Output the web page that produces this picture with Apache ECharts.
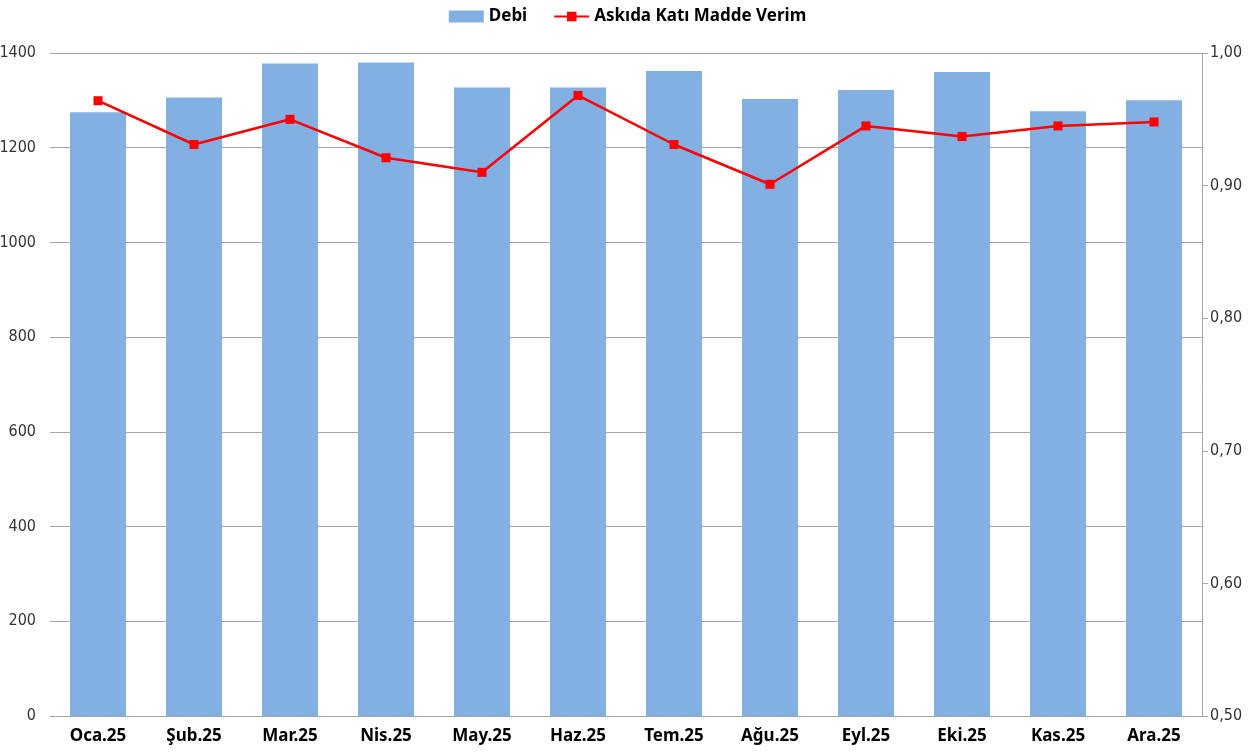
<!DOCTYPE html>
<html lang="tr">
<head>
    <meta charset="UTF-8">
    <title>Debi</title>
    <style>
        html, body { margin: 0; padding: 0; background: #fff; }
        #app { width: 1255px; height: 752px; }
    </style>
</head>
<body>
    <div id="app"></div>
</body>
<script src="https://cdn.jsdelivr.net/npm/echarts@6/dist/echarts.min.js"></script>
<script>
    var months = ['Oca.25', 'Şub.25', 'Mar.25', 'Nis.25', 'May.25', 'Haz.25', 'Tem.25', 'Ağu.25', 'Eyl.25', 'Eki.25', 'Kas.25', 'Ara.25'];
    var debi = [1275, 1306, 1378, 1380, 1327, 1327, 1362, 1303, 1322, 1360, 1277, 1300];
    var verim = [0.964, 0.931, 0.950, 0.921, 0.910, 0.968, 0.931, 0.901, 0.945, 0.937, 0.945, 0.948];

    var chart = echarts.init(document.getElementById('app'));
    var narrow = '"DejaVu Sans Condensed", "Liberation Sans Narrow", "Noto Sans", sans-serif';
    var bold = '"Noto Sans", Lato, sans-serif';

    var option = {
        animation: false,
        legend: {
            top: 3,
            left: 'center',
            itemGap: 26,
            itemWidth: 35,
            itemHeight: 12,
            textStyle: { fontFamily: bold, fontWeight: 'bold', fontSize: 17, color: '#000' },
            data: [
                { name: 'Debi', icon: 'rect' },
                { name: 'Askıda Katı Madde Verim' }
            ]
        },
        grid: { left: 50, right: 53, top: 53, bottom: 36, outerBoundsMode: 'none' },
        xAxis: [{
            type: 'category',
            data: months,
            axisLine: { show: true, lineStyle: { color: '#a6a6a6' } },
            axisTick: { show: false },
            axisLabel: { fontFamily: bold, fontWeight: 'bold', fontSize: 17, color: '#000', margin: 12 }
        }],
        yAxis: [{
            type: 'value',
            min: 0,
            max: 1400,
            interval: 200,
            axisLine: { show: false },
            axisTick: { show: false },
            axisLabel: {
                fontFamily: narrow, fontSize: 16, color: '#333', margin: 14,
                formatter: function (v) { return String(v); }
            },
            splitLine: { lineStyle: { color: '#a6a6a6' } }
        }, {
            type: 'value',
            min: 0.5,
            max: 1.0,
            interval: 0.1,
            axisLine: { show: true, lineStyle: { color: '#a6a6a6' } },
            axisTick: { show: true, length: 6, lineStyle: { color: '#a6a6a6' } },
            axisLabel: {
                fontFamily: narrow, fontSize: 16, color: '#333', margin: 8,
                formatter: function (v) { return v.toFixed(2).replace('.', ','); }
            },
            splitLine: { show: false }
        }],
        series: [{
            name: 'Debi',
            type: 'bar',
            data: debi,
            barWidth: 56,
            itemStyle: { color: '#82b0e3' }
        }, {
            name: 'Askıda Katı Madde Verim',
            type: 'line',
            yAxisIndex: 1,
            data: verim,
            symbol: 'rect',
            symbolSize: 9,
            lineStyle: { color: '#ff0000', width: 2.5 },
            itemStyle: { color: '#ff0000' }
        }]
    };
    chart.setOption(option);
</script>
</html>
